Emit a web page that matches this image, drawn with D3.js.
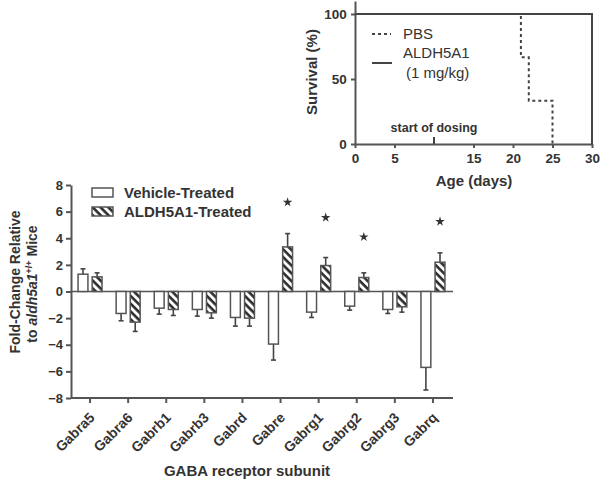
<!DOCTYPE html>
<html>
<head>
<meta charset="utf-8">
<script src="https://cdn.jsdelivr.net/npm/d3@7"></script>
<style>
  body { margin: 0; background: #fff; }
  svg text { font-family: "Liberation Sans", Arial, sans-serif; fill: #333; }
  .axis path, .axis line { stroke: #555; stroke-width: 2; }
  .axis text { font-weight: bold; fill: #333; }
</style>
</head>
<body>
<div id="chart"></div>
<script>
// survival panel
const pbsDays = [0, 21, 22, 25];
const pbsSurvival = [100, 66.7, 33.3, 0];
const aldhDays = [0, 30];
const aldhSurvival = [100, 0];
const ageTicks = [0, 5, 15, 20, 25, 30];
const survivalTicks = [0, 50, 100];
const dosingDay = 10;

// fold-change panel
const subunits = ["Gabra5", "Gabra6", "Gabrb1", "Gabrb3", "Gabrd", "Gabre", "Gabrg1", "Gabrg2", "Gabrg3", "Gabrq"];
const vehicleMean = [1.3, -1.65, -1.25, -1.35, -1.95, -3.95, -1.55, -1.1, -1.35, -5.7];
const vehicleSem  = [0.4, 0.55, 0.45, 0.5, 0.65, 1.2, 0.4, 0.3, 0.3, 1.7];
const aldhMean    = [1.1, -2.3, -1.35, -1.6, -2.0, 3.35, 1.95, 1.05, -1.15, 2.2];
const aldhSem     = [0.3, 0.7, 0.45, 0.4, 0.6, 1.0, 0.6, 0.35, 0.4, 0.7];
const starLevel   = [null, null, null, null, null, 6.7, 5.55, 4.1, null, 5.25];
const foldTicks = [-8, -6, -4, -2, 0, 2, 4, 6, 8];

const svg = d3.select("#chart").append("svg")
    .attr("width", 600)
    .attr("height", 480);

// hatch for ALDH5A1 bars
svg.append("defs").append("pattern")
    .attr("id", "hatch")
    .attr("patternUnits", "userSpaceOnUse")
    .attr("width", 5.5)
    .attr("height", 5.5)
    .attr("patternTransform", "rotate(-45)")
    .call(p => {
        p.append("rect").attr("width", 5.5).attr("height", 5.5).attr("fill", "#fff");
        p.append("line").attr("x1", 1.5).attr("x2", 1.5).attr("y1", 0).attr("y2", 5.5)
            .attr("stroke", "#2b2b2b").attr("stroke-width", 2.6);
    });

// ---------- survival curve ----------
const sx = d3.scaleLinear().domain([0, 30]).range([355, 592]);
const sy = d3.scaleLinear().domain([0, 110]).range([144, 1]);

const survG = svg.append("g");

survG.append("g")
    .attr("class", "axis")
    .attr("transform", "translate(0,144)")
    .call(d3.axisBottom(sx).tickValues(ageTicks).tickSize(4).tickSizeOuter(0))
    .call(g => g.selectAll("text").style("font-size", "13.5px").attr("dy", "0.9em"));

survG.append("g")
    .attr("class", "axis")
    .attr("transform", "translate(355,0)")
    .call(d3.axisLeft(sy).tickValues(survivalTicks).tickSize(4).tickSizeOuter(0))
    .call(g => g.selectAll("text").style("font-size", "13.5px").attr("dx", "-0.1em"));

const stepLine = d3.line()
    .x(d => sx(d[0]))
    .y(d => sy(d[1]))
    .curve(d3.curveStepAfter);

survG.append("path")
    .datum(d3.zip(aldhDays, aldhSurvival))
    .attr("d", stepLine)
    .attr("fill", "none")
    .attr("stroke", "#444")
    .attr("stroke-width", 2);

survG.append("path")
    .datum(d3.zip(pbsDays, pbsSurvival))
    .attr("d", stepLine)
    .attr("fill", "none")
    .attr("stroke", "#444")
    .attr("stroke-width", 2)
    .attr("stroke-dasharray", "3,3");

// start of dosing marker
survG.append("line")
    .attr("x1", sx(dosingDay)).attr("x2", sx(dosingDay))
    .attr("y1", 144).attr("y2", 137)
    .attr("stroke", "#444").attr("stroke-width", 2);
survG.append("text")
    .attr("x", sx(dosingDay)).attr("y", 132)
    .attr("text-anchor", "middle")
    .style("font-size", "12.5px").style("font-weight", "bold")
    .text("start of dosing");

// legend
survG.append("line").attr("x1", 372).attr("x2", 391).attr("y1", 34).attr("y2", 34)
    .attr("stroke", "#444").attr("stroke-width", 2).attr("stroke-dasharray", "3,3");
survG.append("line").attr("x1", 372).attr("x2", 392).attr("y1", 63).attr("y2", 63)
    .attr("stroke", "#444").attr("stroke-width", 2);
survG.append("text").attr("x", 403).attr("y", 39).style("font-size", "15px").text("PBS");
survG.append("text").attr("x", 403).attr("y", 58).style("font-size", "15px").text("ALDH5A1");
survG.append("text").attr("x", 406).attr("y", 78).style("font-size", "15px").text("(1 mg/kg)");

survG.append("text")
    .attr("transform", "translate(317,72) rotate(-90)")
    .attr("text-anchor", "middle")
    .style("font-size", "15px").style("font-weight", "bold")
    .text("Survival (%)");
survG.append("text")
    .attr("x", 474).attr("y", 186)
    .attr("text-anchor", "middle")
    .style("font-size", "15px").style("font-weight", "bold")
    .text("Age (days)");

// ---------- fold change bars ----------
const x0 = d3.scaleBand().domain(subunits).range([71, 452]).padding(0);
const x1 = d3.scaleBand().domain(["veh", "aldh"]).range([-12, 12]).paddingInner(0.3);
const y = d3.scaleLinear().domain([-8, 8]).range([398, 185]);

const bot = svg.append("g");

bot.append("g")
    .attr("class", "axis")
    .attr("transform", "translate(71,0)")
    .call(d3.axisLeft(y).tickValues(foldTicks).tickSize(5).tickSizeOuter(0))
    .call(g => g.selectAll("text").style("font-size", "13px"));

bot.append("g")
    .attr("class", "axis")
    .attr("transform", "translate(0,398)")
    .call(d3.axisBottom(x0).tickSize(5).tickSizeOuter(0))
    .call(g => g.select(".domain").attr("d", "M71,0H453"))
    .call(g => g.selectAll("text")
        .style("font-size", "14px")
        .attr("text-anchor", "end")
        .attr("transform", "translate(2,17) rotate(-45)")
        .attr("dy", "0.35em")
        .attr("y", 0).attr("x", 0));

bot.append("line")
    .attr("x1", 71).attr("x2", 453)
    .attr("y1", y(0)).attr("y2", y(0))
    .attr("stroke", "#555").attr("stroke-width", 1.6);

const rows = subunits.map((s, i) => ({
    name: s,
    bars: [
        {key: "veh", mean: vehicleMean[i], sem: vehicleSem[i]},
        {key: "aldh", mean: aldhMean[i], sem: aldhSem[i]}
    ],
    star: starLevel[i]
}));

const groups = bot.selectAll(".grp")
    .data(rows)
    .enter().append("g")
    .attr("class", "grp")
    .attr("transform", d => `translate(${x0(d.name) + x0.bandwidth() / 2},0)`);

const bars = groups.selectAll(".bar")
    .data(d => d.bars)
    .enter().append("g");

// error bars first so bars sit over the stems
bars.append("line")
    .attr("x1", d => x1(d.key) + x1.bandwidth() / 2)
    .attr("x2", d => x1(d.key) + x1.bandwidth() / 2)
    .attr("y1", d => y(d.mean))
    .attr("y2", d => y(d.mean + Math.sign(d.mean) * d.sem))
    .attr("stroke", "#444").attr("stroke-width", 1.6);
bars.append("line")
    .attr("x1", d => x1(d.key) + x1.bandwidth() / 2 - 2.5)
    .attr("x2", d => x1(d.key) + x1.bandwidth() / 2 + 2.5)
    .attr("y1", d => y(d.mean + Math.sign(d.mean) * d.sem))
    .attr("y2", d => y(d.mean + Math.sign(d.mean) * d.sem))
    .attr("stroke", "#444").attr("stroke-width", 1.6);

bars.append("rect")
    .attr("x", d => x1(d.key))
    .attr("width", x1.bandwidth())
    .attr("y", d => y(Math.max(0, d.mean)))
    .attr("height", d => Math.abs(y(d.mean) - y(0)))
    .attr("fill", d => d.key === "veh" ? "#fff" : "url(#hatch)")
    .attr("stroke", "#555")
    .attr("stroke-width", 1.5);

groups.filter(d => d.star !== null)
    .append("path")
    .attr("d", d3.symbol().type(d3.symbolStar).size(28))
    .attr("transform", d => `translate(${x1("aldh") + x1.bandwidth() / 2},${y(d.star)})`)
    .attr("fill", "#333");

// legend
const leg = bot.append("g");
leg.append("rect").attr("x", 92).attr("y", 188).attr("width", 21).attr("height", 9)
    .attr("fill", "#fff").attr("stroke", "#555").attr("stroke-width", 1.5);
leg.append("rect").attr("x", 92).attr("y", 207).attr("width", 21).attr("height", 9)
    .attr("fill", "url(#hatch)").attr("stroke", "#555").attr("stroke-width", 1.5);
leg.append("text").attr("x", 124).attr("y", 198)
    .style("font-size", "15px").style("font-weight", "bold").text("Vehicle-Treated");
leg.append("text").attr("x", 124).attr("y", 217)
    .style("font-size", "15px").style("font-weight", "bold").text("ALDH5A1-Treated");

// axis titles
bot.append("text")
    .attr("transform", "translate(20,282) rotate(-90)")
    .attr("text-anchor", "middle")
    .style("font-size", "14px").style("font-weight", "bold")
    .text("Fold-Change Relative");
const yl = bot.append("text")
    .attr("transform", "translate(37,284) rotate(-90)")
    .attr("text-anchor", "middle")
    .style("font-size", "14px").style("font-weight", "bold");
yl.append("tspan").text("to ");
yl.append("tspan").style("font-style", "italic").text("aldh5a1");
yl.append("tspan").attr("baseline-shift", "super").style("font-size", "9px").text("+/+");
yl.append("tspan").text(" Mice");

bot.append("text")
    .attr("x", 247).attr("y", 476)
    .attr("text-anchor", "middle")
    .style("font-size", "15px").style("font-weight", "bold")
    .text("GABA receptor subunit");
</script>
</body>
</html>
